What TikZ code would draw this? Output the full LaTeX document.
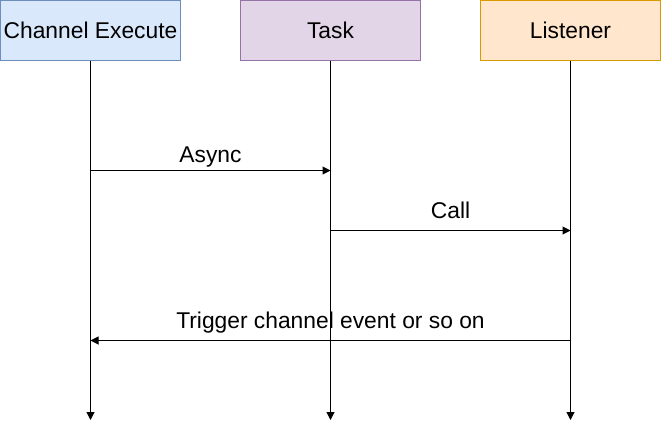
\documentclass[tikz,border=0pt]{standalone}
\usepackage{fontspec}
\setmainfont{Liberation Sans}
\usetikzlibrary{arrows.meta}
\definecolor{bfill}{HTML}{DAE8FC}\definecolor{bdraw}{HTML}{6C8EBF}
\definecolor{pfill}{HTML}{E1D5E7}\definecolor{pdraw}{HTML}{9673A6}
\definecolor{ofill}{HTML}{FFE6CC}\definecolor{odraw}{HTML}{D79B00}
\begin{document}
\begin{tikzpicture}[x=1pt,y=-1pt,
  actor/.style={draw,line width=1pt,minimum width=180pt,minimum height=60pt,inner sep=0pt,font=\fontsize{22.8}{26}\selectfont},
  msg/.style={line width=1pt,-{Triangle[length=8pt,width=8pt]}},
  lbl/.style={anchor=base,inner sep=0pt,font=\fontsize{22.8}{26}\selectfont}]
\useasboundingbox (0,0) rectangle (661,429);
\node[actor,fill=bfill,draw=bdraw] (ce) at (90.5,30.5) {Channel Execute};
\node[actor,fill=pfill,draw=pdraw] (task) at (330.5,30.5) {Task};
\node[actor,fill=ofill,draw=odraw] (lis) at (570.5,30.5) {Listener};
\coordinate (ceE) at (90.5,420);
\coordinate (taskE) at (330.5,420);
\coordinate (lisE) at (570.5,420);
\draw[msg] (ce.south) -- (ceE);
\draw[msg] (task.south) -- (taskE);
\draw[msg] (lis.south) -- (lisE);
\coordinate (a1) at (90.5,170.5);
\coordinate (a2) at (330.5,170.5);
\coordinate (c1) at (330.5,230.5);
\coordinate (c2) at (570.5,230.5);
\coordinate (t1) at (570.5,340.5);
\coordinate (t2) at (90.5,340.5);
\draw[msg] (a1) -- node[lbl,pos=0.5,yshift=8pt] (la) {Async} (a2);
\draw[msg] (c1) -- node[lbl,pos=0.5,yshift=12.5pt] (lc) {Call} (c2);
\draw[msg] (t1) -- node[lbl,pos=0.5,yshift=12.5pt] (lt) {Trigger channel event or so on} (t2);
\end{tikzpicture}
\end{document}
